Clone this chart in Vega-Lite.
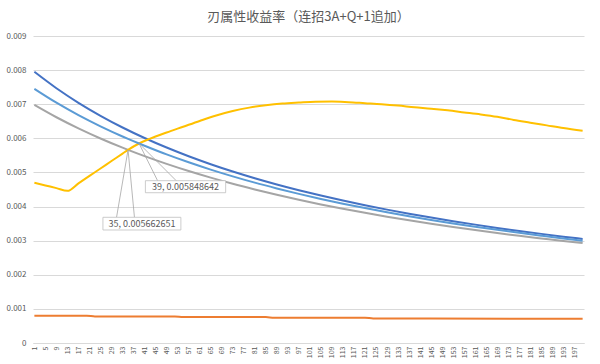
{
  "$schema": "https://vega.github.io/schema/vega-lite/v6.json",
  "width": 600,
  "height": 364,
  "autosize": {"type": "fit", "contains": "padding"},
  "padding": {"left": 5, "right": 13, "top": 11, "bottom": 3},
  "background": "white",
  "title": {"text": "刃属性收益率（连招3A+Q+1追加）", "fontSize": 13, "font": "Noto Sans CJK SC", "fontWeight": "normal", "color": "#595959", "offset": 8},
  "config": {"view": {"stroke": null}, "font": "Noto Sans CJK SC"},
  "datasets": {
    "lines": [
      {"s":"db","x":1,"v":0.00795},{"s":"db","x":9,"v":0.007468},{"s":"db","x":17,"v":0.007041},{"s":"db","x":25,"v":0.00666},{"s":"db","x":33,"v":0.006318},{"s":"db","x":41,"v":0.00601},{"s":"db","x":49,"v":0.00573},{"s":"db","x":57,"v":0.005475},{"s":"db","x":65,"v":0.005242},{"s":"db","x":73,"v":0.005028},{"s":"db","x":81,"v":0.004831},{"s":"db","x":89,"v":0.004648},{"s":"db","x":97,"v":0.004479},{"s":"db","x":105,"v":0.004322},{"s":"db","x":113,"v":0.004175},{"s":"db","x":121,"v":0.004039},{"s":"db","x":129,"v":0.00391},{"s":"db","x":137,"v":0.00379},{"s":"db","x":145,"v":0.003677},{"s":"db","x":153,"v":0.00357},{"s":"db","x":161,"v":0.00347},{"s":"db","x":169,"v":0.003374},{"s":"db","x":177,"v":0.003284},{"s":"db","x":185,"v":0.003199},{"s":"db","x":193,"v":0.003118},{"s":"db","x":200,"v":0.00305},
      {"s":"or","x":1,"v":0.0008},{"s":"or","x":20,"v":0.0008},{"s":"or","x":23,"v":0.00078},{"s":"or","x":52,"v":0.00078},{"s":"or","x":55,"v":0.00076},{"s":"or","x":85,"v":0.00076},{"s":"or","x":88,"v":0.00074},{"s":"or","x":121,"v":0.00074},{"s":"or","x":124,"v":0.00072},{"s":"or","x":200,"v":0.00071},
      {"s":"gr","x":1,"v":0.00698},{"s":"gr","x":9,"v":0.006618},{"s":"gr","x":17,"v":0.006292},{"s":"gr","x":25,"v":0.005996},{"s":"gr","x":33,"v":0.005727},{"s":"gr","x":35,"v":0.005663},{"s":"gr","x":41,"v":0.005479},{"s":"gr","x":49,"v":0.005251},{"s":"gr","x":57,"v":0.005041},{"s":"gr","x":65,"v":0.004847},{"s":"gr","x":73,"v":0.004667},{"s":"gr","x":81,"v":0.004501},{"s":"gr","x":89,"v":0.004344},{"s":"gr","x":97,"v":0.004199},{"s":"gr","x":105,"v":0.004063},{"s":"gr","x":113,"v":0.003935},{"s":"gr","x":121,"v":0.003816},{"s":"gr","x":129,"v":0.003703},{"s":"gr","x":137,"v":0.003596},{"s":"gr","x":145,"v":0.003496},{"s":"gr","x":153,"v":0.0034},{"s":"gr","x":161,"v":0.00331},{"s":"gr","x":169,"v":0.003224},{"s":"gr","x":177,"v":0.003142},{"s":"gr","x":185,"v":0.003066},{"s":"gr","x":193,"v":0.002991},{"s":"gr","x":200,"v":0.002929},
      {"s":"ye","x":1,"v":0.0047},{"s":"ye","x":5,"v":0.00462},{"s":"ye","x":9,"v":0.00454},{"s":"ye","x":13,"v":0.00446},{"s":"ye","x":17,"v":0.004679},{"s":"ye","x":21,"v":0.004898},{"s":"ye","x":25,"v":0.005116},{"s":"ye","x":29,"v":0.005335},{"s":"ye","x":33,"v":0.005553},{"s":"ye","x":35,"v":0.005663},{"s":"ye","x":39,"v":0.005849},{"s":"ye","x":43,"v":0.00599},{"s":"ye","x":49,"v":0.00617},{"s":"ye","x":55,"v":0.00634},{"s":"ye","x":61,"v":0.00651},{"s":"ye","x":67,"v":0.00667},{"s":"ye","x":73,"v":0.0068},{"s":"ye","x":79,"v":0.0069},{"s":"ye","x":85,"v":0.00697},{"s":"ye","x":91,"v":0.00702},{"s":"ye","x":97,"v":0.00705},{"s":"ye","x":103,"v":0.007075},{"s":"ye","x":109,"v":0.00708},{"s":"ye","x":115,"v":0.00706},{"s":"ye","x":121,"v":0.00703},{"s":"ye","x":127,"v":0.007},{"s":"ye","x":133,"v":0.00696},{"s":"ye","x":139,"v":0.00691},{"s":"ye","x":145,"v":0.00687},{"s":"ye","x":151,"v":0.00682},{"s":"ye","x":157,"v":0.00676},{"s":"ye","x":163,"v":0.0067},{"s":"ye","x":169,"v":0.00663},{"s":"ye","x":175,"v":0.00654},{"s":"ye","x":181,"v":0.00646},{"s":"ye","x":187,"v":0.00638},{"s":"ye","x":193,"v":0.0063},{"s":"ye","x":200,"v":0.00622},
      {"s":"lb","x":1,"v":0.00745},{"s":"lb","x":9,"v":0.007044},{"s":"lb","x":17,"v":0.00668},{"s":"lb","x":25,"v":0.006352},{"s":"lb","x":33,"v":0.006054},{"s":"lb","x":35,"v":0.005984},{"s":"lb","x":39,"v":0.005849},{"s":"lb","x":41,"v":0.005783},{"s":"lb","x":49,"v":0.005529},{"s":"lb","x":57,"v":0.005297},{"s":"lb","x":65,"v":0.005083},{"s":"lb","x":73,"v":0.004885},{"s":"lb","x":81,"v":0.004701},{"s":"lb","x":89,"v":0.004532},{"s":"lb","x":97,"v":0.004372},{"s":"lb","x":105,"v":0.004224},{"s":"lb","x":113,"v":0.004085},{"s":"lb","x":121,"v":0.003955},{"s":"lb","x":129,"v":0.003833},{"s":"lb","x":137,"v":0.003717},{"s":"lb","x":145,"v":0.003609},{"s":"lb","x":153,"v":0.003506},{"s":"lb","x":161,"v":0.003409},{"s":"lb","x":169,"v":0.003317},{"s":"lb","x":177,"v":0.003229},{"s":"lb","x":185,"v":0.003146},{"s":"lb","x":193,"v":0.003066},{"s":"lb","x":200,"v":0.003}
    ],
    "leaders": [
      {"x":35,"y":0.005663,"x2":30.83,"y2":0.003685},
      {"x":35,"y":0.005663,"x2":37.32,"y2":0.003685},
      {"x":39,"y":0.005849,"x2":45.73,"y2":0.004758},
      {"x":39,"y":0.005849,"x2":52.49,"y2":0.004758}
    ],
    "boxes": [
      {"label":"35, 0.005662651","x":25.88,"x2":54.18,"y":0.003685,"y2":0.003313,"tx":40.03,"ty":0.003499},
      {"label":"39, 0.005848642","x":41.29,"x2":70.43,"y":0.004758,"y2":0.004406,"tx":55.86,"ty":0.004582}
    ]
  },
  "layer": [
    {
      "data": {"name": "lines"},
      "mark": {"type": "line", "strokeWidth": 2, "interpolate": "monotone"},
      "encoding": {
        "x": {"field": "x", "type": "quantitative",
          "scale": {"domain": [0.5, 200.5], "nice": false, "zero": false},
          "axis": {"title": null, "values": [1,5,9,13,17,21,25,29,33,37,41,45,49,53,57,61,65,69,73,77,81,85,89,93,97,101,105,109,113,117,121,125,129,133,137,141,145,149,153,157,161,165,169,173,177,181,185,189,193,197],
            "tickCount": 200,
            "labelAngle": -90, "labelFontSize": 7, "labelColor": "#595959", "grid": false, "ticks": false,
            "domainColor": "#D9D9D9", "labelPadding": 3, "minExtent": 18, "maxExtent": 18, "labelOverlap": false, "labelFlush": false}},
        "y": {"field": "v", "type": "quantitative",
          "scale": {"domain": [0, 0.009], "nice": false},
          "axis": {"title": null, "values": [0,0.001,0.002,0.003,0.004,0.005,0.006,0.007,0.008,0.009], "format": ".3~f",
            "tickCount": 50, "labelOverlap": false,
            "labelFontSize": 8, "labelColor": "#595959", "ticks": false, "domain": false, "gridColor": "#D9D9D9",
            "labelPadding": 7, "minExtent": 28, "maxExtent": 28}},
        "color": {"field": "s", "type": "nominal",
          "scale": {"domain": ["db","or","gr","ye","lb"], "range": ["#4472C4","#ED7D31","#A5A5A5","#FFC000","#5B9BD5"]},
          "legend": null}
      }
    },
    {
      "data": {"name": "leaders"},
      "mark": {"type": "rule", "color": "#A6A6A6", "strokeWidth": 0.8},
      "encoding": {
        "x": {"field": "x", "type": "quantitative"},
        "y": {"field": "y", "type": "quantitative"},
        "x2": {"field": "x2"},
        "y2": {"field": "y2"}
      }
    },
    {
      "data": {"name": "boxes"},
      "mark": {"type": "rect", "fill": "white", "stroke": "#BFBFBF", "strokeWidth": 0.8},
      "encoding": {
        "x": {"field": "x", "type": "quantitative"},
        "x2": {"field": "x2"},
        "y": {"field": "y", "type": "quantitative"},
        "y2": {"field": "y2"}
      }
    },
    {
      "data": {"name": "boxes"},
      "mark": {"type": "text", "fontSize": 9, "color": "#595959", "align": "center", "baseline": "middle"},
      "encoding": {
        "x": {"field": "tx", "type": "quantitative"},
        "y": {"field": "ty", "type": "quantitative"},
        "text": {"field": "label"}
      }
    }
  ]
}
